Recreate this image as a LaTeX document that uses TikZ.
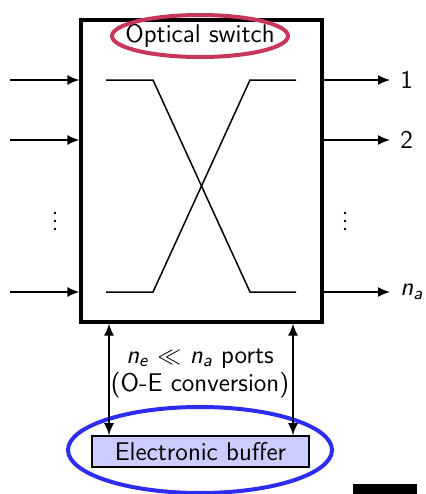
\documentclass[tikz,border=0pt]{standalone}
\usetikzlibrary{arrows.meta,shapes.geometric}
\definecolor{ringred}{RGB}{200,55,90}
\definecolor{ringblue}{RGB}{45,45,240}
\definecolor{buffill}{RGB}{204,204,255}
\begin{document}
\begin{tikzpicture}[
  x=0.5pt, y=-0.5pt,
  font=\sffamily\fontsize{12.8}{14}\selectfont,
  box/.style={draw, line width=1.6pt, minimum width=120.5pt, minimum height=151pt, inner sep=0pt},
  arr/.style={line width=0.8pt, -{Latex[length=6pt,width=5pt]}},
  dbl/.style={line width=0.8pt, {Latex[length=6pt,width=5pt]}-{Latex[length=6pt,width=5pt]}},
  wire/.style={line width=0.75pt},
  ring/.style={ellipse, line width=2pt, inner sep=0pt},
  lbl/.style={anchor=west, inner sep=5pt}
]
\useasboundingbox (0,0) rectangle (426,494);

\node[box] (sw) at (201.5,171) {};
\node (ttl) at (200,36) {Optical switch};
\node[ring, draw=ringred, minimum width=88pt, minimum height=21pt] (tring) at (ttl) {};

% inputs
\coordinate (i1) at (10,80);
\coordinate (i2) at (10,140);
\coordinate (i3) at (10,292);
\draw[arr] (i1) -- (i1 -| sw.west);
\draw[arr] (i2) -- (i2 -| sw.west);
\draw[arr] (i3) -- (i3 -| sw.west);
\node (dl) at (55,215) {$\vdots$};

% outputs
\node[lbl] (o1) at (390,80) {1};
\node[lbl] (o2) at (390,140) {2};
\node[lbl] (o3) at (390,292) {\textit{n}\textsubscript{\textit{a}}};
\draw[arr] (o1.west -| sw.east) -- (o1.west);
\draw[arr] (o2.west -| sw.east) -- (o2.west);
\draw[arr] (o3.west -| sw.east) -- (o3.west);
\node (dr) at (345,215) {$\vdots$};

% crossing paths
\draw[wire] (106,80) -- (153,80) -- (250,292) -- (296,292);
\draw[wire] (106,292) -- (153,292) -- (250,80) -- (296,80);

% electronic side
\node[draw, line width=0.8pt, fill=buffill, minimum width=108.5pt, minimum height=15.5pt, inner sep=0pt]
  (buf) at (200.5,451.5) {Electronic buffer};
\node[ring, draw=ringblue, minimum width=132pt, minimum height=43pt] (bring) at (200,450) {};
\node[align=center] (ports) at (200,373)
  {\textit{n}\textsubscript{\textit{e}} $\ll$ \textit{n}\textsubscript{\textit{a}} ports\\(O-E conversion)};
\coordinate (pl) at (109,380);
\coordinate (pr) at (293,380);
\draw[dbl] (sw.south -| pl) -- (buf.north -| pl);
\draw[dbl] (sw.south -| pr) -- (buf.north -| pr);

\fill (353,484) rectangle (417,494);
\end{tikzpicture}
\end{document}
